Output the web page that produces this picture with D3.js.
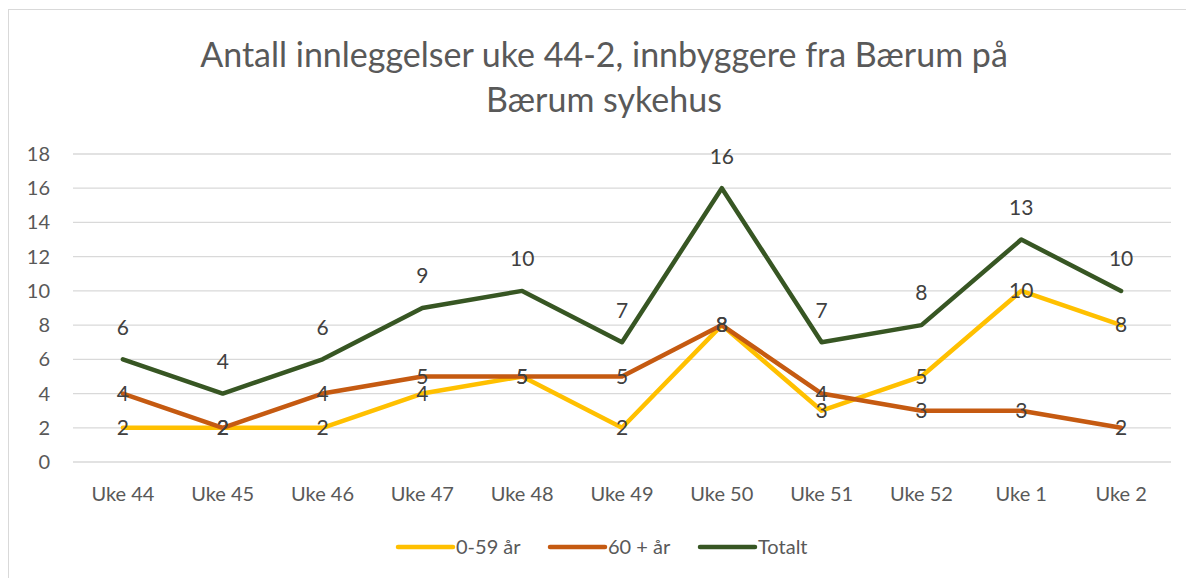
<!DOCTYPE html>
<html>
<head>
    <script src="https://d3js.org/d3.v7.min.js"></script>
    <style>
        body { margin: 0; background: #fff; font-family: Lato, "Open Sans", sans-serif; }
    </style>
</head>
<body>
    <div id="chart"></div>

    <script>
        // Data
        const weeks = ["Uke 44", "Uke 45", "Uke 46", "Uke 47", "Uke 48", "Uke 49", "Uke 50", "Uke 51", "Uke 52", "Uke 1", "Uke 2"];
        const young = [2, 2, 2, 4, 5, 2, 8, 3, 5, 10, 8];
        const old = [4, 2, 4, 5, 5, 5, 8, 4, 3, 3, 2];
        const total = [6, 4, 6, 9, 10, 7, 16, 7, 8, 13, 10];
        const yTicks = [0, 2, 4, 6, 8, 10, 12, 14, 16, 18];

        const series = [
            { name: "0-59 år", values: young, color: "#FFC000", labelPos: "center" },
            { name: "60 + år", values: old, color: "#C55A11", labelPos: "center" },
            { name: "Totalt", values: total, color: "#375623", labelPos: "above" }
        ];

        const width = 1186, height = 578;
        const svg = d3.select("#chart").append("svg")
            .attr("width", width)
            .attr("height", height);

        // outer frame
        svg.append("rect")
            .attr("x", 8.5).attr("y", 9.5)
            .attr("width", 1190).attr("height", 580)
            .attr("fill", "none")
            .attr("stroke", "#d9d9d9");

        // title
        const title = svg.append("text")
            .attr("text-anchor", "middle")
            .attr("fill", "#595959")
            .style("font-size", "34px");
        title.append("tspan").attr("x", 604).attr("y", 67).text("Antall innleggelser uke 44-2, innbyggere fra Bærum på");
        title.append("tspan").attr("x", 604).attr("y", 112).text("Bærum sykehus");

        const x = d3.scaleBand().domain(weeks).range([73, 1171]);
        const y = d3.scaleLinear().domain([0, 18]).range([462, 154]);

        // gridlines
        svg.append("g")
            .selectAll("line")
            .data(yTicks)
            .join("line")
            .attr("x1", 73).attr("x2", 1171)
            .attr("y1", d => y(d)).attr("y2", d => y(d))
            .attr("stroke", "#d9d9d9")
            .attr("stroke-width", 1.3);

        // y axis labels
        svg.append("g")
            .selectAll("text")
            .data(yTicks)
            .join("text")
            .attr("x", 50)
            .attr("y", d => y(d))
            .attr("dy", "0.35em")
            .attr("text-anchor", "end")
            .attr("fill", "#595959")
            .style("font-size", "20px")
            .text(d => d);

        // x axis labels
        svg.append("g")
            .selectAll("text")
            .data(weeks)
            .join("text")
            .attr("x", d => x(d) + x.bandwidth() / 2)
            .attr("y", 501)
            .attr("text-anchor", "middle")
            .attr("fill", "#595959")
            .style("font-size", "20px")
            .text(d => d);

        const line = d3.line()
            .x((d, i) => x(weeks[i]) + x.bandwidth() / 2)
            .y(d => y(d));

        // lines
        svg.append("g")
            .selectAll("path")
            .data(series)
            .join("path")
            .attr("d", d => line(d.values))
            .attr("fill", "none")
            .attr("stroke", d => d.color)
            .attr("stroke-width", 4.5)
            .attr("stroke-linejoin", "round")
            .attr("stroke-linecap", "round");

        // data labels
        series.forEach(s => {
            svg.append("g")
                .selectAll("text")
                .data(s.values)
                .join("text")
                .attr("x", (d, i) => x(weeks[i]) + x.bandwidth() / 2)
                .attr("y", d => s.labelPos === "above" ? y(d) - 32 : y(d))
                .attr("dy", "0.35em")
                .attr("text-anchor", "middle")
                .attr("fill", "#404040")
                .style("font-size", "21px")
                .text(d => d);
        });

        // legend
        const legendX = [398, 550, 700];
        const legend = svg.append("g")
            .selectAll("g")
            .data(series)
            .join("g")
            .attr("transform", (d, i) => `translate(${legendX[i]},547)`);
        legend.append("line")
            .attr("x1", 0).attr("x2", 55)
            .attr("stroke", d => d.color)
            .attr("stroke-width", 4.5)
            .attr("stroke-linecap", "round");
        legend.append("text")
            .attr("x", 58)
            .attr("dy", "0.35em")
            .attr("fill", "#595959")
            .style("font-size", "20px")
            .text(d => d.name);
    </script>
</body>
</html>
